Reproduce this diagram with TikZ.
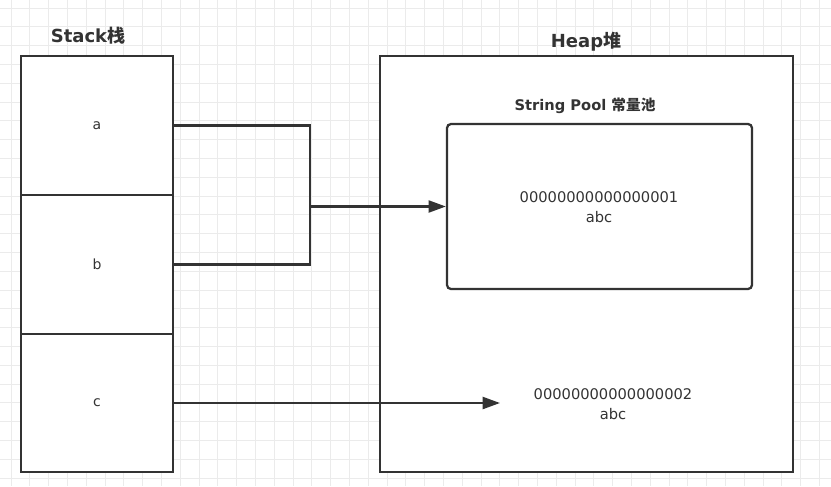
\documentclass[tikz,border=0pt]{standalone}
\usepackage{fontspec}
\setmainfont{DejaVu Sans}
\newfontfamily\cjk{Noto Sans CJK SC}
\usepackage{xcolor}
\usetikzlibrary{arrows.meta}

\definecolor{inkgray}{HTML}{333333}
\definecolor{gridgray}{HTML}{EBEBEB}

\tikzset{
	gridline/.style={draw=gridgray,line width=0.6pt},
	cell/.style={draw=inkgray,fill=white,line width=1.7pt,minimum width=114pt,minimum height=104pt,inner sep=0pt,font=\fontsize{10.5}{12}\selectfont,text=inkgray},
	region/.style={draw=inkgray,fill=white,line width=1.7pt,inner sep=0pt},
	title/.style={font=\fontsize{13.5}{16}\bfseries,text=inkgray},
	entry/.style={align=center,font=\fontsize{11}{15}\selectfont,text=inkgray,inner sep=0pt},
	link/.style={draw=inkgray,line width=1.7pt},
	pointer/.style={link,-{Triangle[length=13pt,width=9pt]}}
}

\begin{document}
\begin{tikzpicture}[x=0.75pt,y=-0.75pt]
			\useasboundingbox[fill=white] (0,0) rectangle (831,486);
			% background grid
			\foreach \gx in {0,...,43}
				\draw[gridline] ({11+18.8*\gx},0) -- ({11+18.8*\gx},486);
			\foreach \gy in {0,...,25}
				\draw[gridline] (0,{8+18.8*\gy}) -- (831,{8+18.8*\gy});

			% stack
			\node[title] (stacktitle) at (88,36) {Stack{\cjk 栈}};
			\node[cell] (a) at (97,125.5) {a};
			\node[cell] (b) at (97,264.5) {b};
			\node[cell] (c) at (97,403) {c};

			% heap
			\node[region,minimum width=309.75pt,minimum height=312pt] (heap) at (586.5,264) {};
			\node[title] (heaptitle) at (586,42) {Heap{\cjk 堆}};
			\node[title,font=\fontsize{11}{13}\bfseries] (pooltitle) at (585,106) {String Pool {\cjk 常量池}};
			\node[region,rounded corners=3pt,minimum width=228.75pt,minimum height=123.75pt] (pool) at (599.5,206.5) {};
			\node[entry] (addr1) at (599,207) {00000000000000001\\abc};
			\node[entry] (addr2) at (613,404) {00000000000000002\\abc};

			% references
			\coordinate (join) at (310,206.5);
			\coordinate (ctip) at (500,403);
			\draw[link] (a.east) -| (join);
			\draw[link] (b.east) -| (join);
			\draw[pointer] (join) -- (pool.west);
			\draw[pointer] (c.east) -- (ctip);
		\end{tikzpicture}
\end{document}
